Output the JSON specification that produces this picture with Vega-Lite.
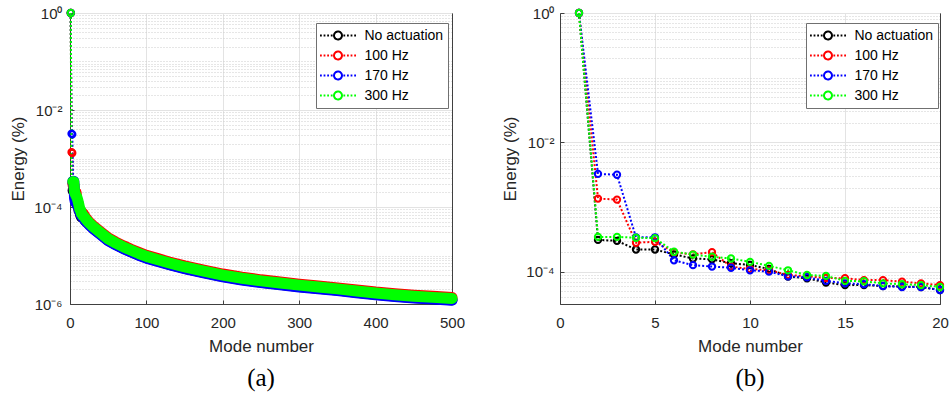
{
  "$schema": "https://vega.github.io/schema/vega-lite/v6.json",
  "background": "white",
  "padding": {"left": 9, "top": 5, "right": 0, "bottom": 0},
  "spacing": 35,
  "datasets": {
    "d": [
      {"s":"No actuation","m":1,"e":1},{"s":"No actuation","m":2,"e":3.1e-4},{"s":"No actuation","m":3,"e":3.0e-4},{"s":"No actuation","m":4,"e":2.2e-4},{"s":"No actuation","m":5,"e":2.2e-4},{"s":"No actuation","m":6,"e":1.85e-4},{"s":"No actuation","m":7,"e":1.6e-4},{"s":"No actuation","m":8,"e":1.55e-4},{"s":"No actuation","m":9,"e":1.35e-4},{"s":"No actuation","m":10,"e":1.27e-4},{"s":"No actuation","m":11,"e":1.1e-4},{"s":"No actuation","m":12,"e":8.4e-5},{"s":"No actuation","m":13,"e":7.9e-5},{"s":"No actuation","m":14,"e":6.8e-5},{"s":"No actuation","m":15,"e":6.2e-5},{"s":"No actuation","m":16,"e":6.2e-5},{"s":"No actuation","m":17,"e":6.0e-5},{"s":"No actuation","m":18,"e":5.9e-5},{"s":"No actuation","m":19,"e":5.8e-5},{"s":"No actuation","m":20,"e":5.2e-5},
      {"s":"No actuation","m":25,"e":4.42e-5},{"s":"No actuation","m":30,"e":3.71e-5},{"s":"No actuation","m":40,"e":2.77e-5},{"s":"No actuation","m":50,"e":2.07e-5},{"s":"No actuation","m":60,"e":1.69e-5},{"s":"No actuation","m":70,"e":1.41e-5},{"s":"No actuation","m":80,"e":1.2e-5},{"s":"No actuation","m":90,"e":1.03e-5},{"s":"No actuation","m":100,"e":9.02e-6},{"s":"No actuation","m":115,"e":7.71e-6},{"s":"No actuation","m":130,"e":6.58e-6},{"s":"No actuation","m":150,"e":5.45e-6},{"s":"No actuation","m":175,"e":4.47e-6},{"s":"No actuation","m":200,"e":3.71e-6},{"s":"No actuation","m":225,"e":3.2e-6},{"s":"No actuation","m":250,"e":2.82e-6},{"s":"No actuation","m":275,"e":2.54e-6},{"s":"No actuation","m":300,"e":2.3e-6},{"s":"No actuation","m":325,"e":2.12e-6},{"s":"No actuation","m":350,"e":1.93e-6},{"s":"No actuation","m":375,"e":1.74e-6},{"s":"No actuation","m":400,"e":1.58e-6},{"s":"No actuation","m":425,"e":1.46e-6},{"s":"No actuation","m":450,"e":1.36e-6},{"s":"No actuation","m":475,"e":1.29e-6},{"s":"No actuation","m":500,"e":1.22e-6},
      {"s":"100 Hz","m":1,"e":1},{"s":"100 Hz","m":2,"e":1.35e-3},{"s":"100 Hz","m":3,"e":1.3e-3},{"s":"100 Hz","m":4,"e":2.8e-4},{"s":"100 Hz","m":5,"e":2.9e-4},{"s":"100 Hz","m":6,"e":2.0e-4},{"s":"100 Hz","m":7,"e":1.85e-4},{"s":"100 Hz","m":8,"e":2.0e-4},{"s":"100 Hz","m":9,"e":1.2e-4},{"s":"100 Hz","m":10,"e":1.1e-4},{"s":"100 Hz","m":11,"e":1.05e-4},{"s":"100 Hz","m":12,"e":8.9e-5},{"s":"100 Hz","m":13,"e":8.5e-5},{"s":"100 Hz","m":14,"e":8.0e-5},{"s":"100 Hz","m":15,"e":7.9e-5},{"s":"100 Hz","m":16,"e":7.4e-5},{"s":"100 Hz","m":17,"e":7.4e-5},{"s":"100 Hz","m":18,"e":7.0e-5},{"s":"100 Hz","m":19,"e":6.6e-5},{"s":"100 Hz","m":20,"e":6.2e-5},
      {"s":"100 Hz","m":25,"e":4.94e-5},{"s":"100 Hz","m":30,"e":4.15e-5},{"s":"100 Hz","m":40,"e":3.1e-5},{"s":"100 Hz","m":50,"e":2.31e-5},{"s":"100 Hz","m":60,"e":1.89e-5},{"s":"100 Hz","m":70,"e":1.58e-5},{"s":"100 Hz","m":80,"e":1.34e-5},{"s":"100 Hz","m":90,"e":1.16e-5},{"s":"100 Hz","m":100,"e":1.01e-5},{"s":"100 Hz","m":115,"e":8.61e-6},{"s":"100 Hz","m":130,"e":7.35e-6},{"s":"100 Hz","m":150,"e":6.09e-6},{"s":"100 Hz","m":175,"e":4.99e-6},{"s":"100 Hz","m":200,"e":4.15e-6},{"s":"100 Hz","m":225,"e":3.57e-6},{"s":"100 Hz","m":250,"e":3.15e-6},{"s":"100 Hz","m":275,"e":2.84e-6},{"s":"100 Hz","m":300,"e":2.57e-6},{"s":"100 Hz","m":325,"e":2.36e-6},{"s":"100 Hz","m":350,"e":2.15e-6},{"s":"100 Hz","m":375,"e":1.94e-6},{"s":"100 Hz","m":400,"e":1.76e-6},{"s":"100 Hz","m":425,"e":1.63e-6},{"s":"100 Hz","m":450,"e":1.52e-6},{"s":"100 Hz","m":475,"e":1.44e-6},{"s":"100 Hz","m":500,"e":1.37e-6},
      {"s":"170 Hz","m":1,"e":1},{"s":"170 Hz","m":2,"e":3.25e-3},{"s":"170 Hz","m":3,"e":3.15e-3},{"s":"170 Hz","m":4,"e":3.4e-4},{"s":"170 Hz","m":5,"e":3.4e-4},{"s":"170 Hz","m":6,"e":1.5e-4},{"s":"170 Hz","m":7,"e":1.26e-4},{"s":"170 Hz","m":8,"e":1.2e-4},{"s":"170 Hz","m":9,"e":1.15e-4},{"s":"170 Hz","m":10,"e":1.05e-4},{"s":"170 Hz","m":11,"e":1.0e-4},{"s":"170 Hz","m":12,"e":8.5e-5},{"s":"170 Hz","m":13,"e":8.2e-5},{"s":"170 Hz","m":14,"e":7.2e-5},{"s":"170 Hz","m":15,"e":6.6e-5},{"s":"170 Hz","m":16,"e":6.4e-5},{"s":"170 Hz","m":17,"e":6.0e-5},{"s":"170 Hz","m":18,"e":5.8e-5},{"s":"170 Hz","m":19,"e":5.8e-5},{"s":"170 Hz","m":20,"e":5.2e-5},
      {"s":"170 Hz","m":25,"e":4.32e-5},{"s":"170 Hz","m":30,"e":3.63e-5},{"s":"170 Hz","m":40,"e":2.71e-5},{"s":"170 Hz","m":50,"e":2.02e-5},{"s":"170 Hz","m":60,"e":1.66e-5},{"s":"170 Hz","m":70,"e":1.38e-5},{"s":"170 Hz","m":80,"e":1.18e-5},{"s":"170 Hz","m":90,"e":1.01e-5},{"s":"170 Hz","m":100,"e":8.83e-6},{"s":"170 Hz","m":115,"e":7.54e-6},{"s":"170 Hz","m":130,"e":6.44e-6},{"s":"170 Hz","m":150,"e":5.34e-6},{"s":"170 Hz","m":175,"e":4.37e-6},{"s":"170 Hz","m":200,"e":3.63e-6},{"s":"170 Hz","m":225,"e":3.13e-6},{"s":"170 Hz","m":250,"e":2.76e-6},{"s":"170 Hz","m":275,"e":2.48e-6},{"s":"170 Hz","m":300,"e":2.25e-6},{"s":"170 Hz","m":325,"e":2.07e-6},{"s":"170 Hz","m":350,"e":1.89e-6},{"s":"170 Hz","m":375,"e":1.7e-6},{"s":"170 Hz","m":400,"e":1.55e-6},{"s":"170 Hz","m":425,"e":1.43e-6},{"s":"170 Hz","m":450,"e":1.33e-6},{"s":"170 Hz","m":475,"e":1.26e-6},{"s":"170 Hz","m":500,"e":1.2e-6},
      {"s":"300 Hz","m":1,"e":1},{"s":"300 Hz","m":2,"e":3.45e-4},{"s":"300 Hz","m":3,"e":3.45e-4},{"s":"300 Hz","m":4,"e":3.35e-4},{"s":"300 Hz","m":5,"e":3.3e-4},{"s":"300 Hz","m":6,"e":2.03e-4},{"s":"300 Hz","m":7,"e":1.84e-4},{"s":"300 Hz","m":8,"e":1.7e-4},{"s":"300 Hz","m":9,"e":1.6e-4},{"s":"300 Hz","m":10,"e":1.42e-4},{"s":"300 Hz","m":11,"e":1.23e-4},{"s":"300 Hz","m":12,"e":1.05e-4},{"s":"300 Hz","m":13,"e":8.9e-5},{"s":"300 Hz","m":14,"e":8.6e-5},{"s":"300 Hz","m":15,"e":7.2e-5},{"s":"300 Hz","m":16,"e":7.1e-5},{"s":"300 Hz","m":17,"e":6.6e-5},{"s":"300 Hz","m":18,"e":6.4e-5},{"s":"300 Hz","m":19,"e":6.2e-5},{"s":"300 Hz","m":20,"e":5.8e-5},
      {"s":"300 Hz","m":25,"e":4.7e-5},{"s":"300 Hz","m":30,"e":3.95e-5},{"s":"300 Hz","m":40,"e":2.95e-5},{"s":"300 Hz","m":50,"e":2.2e-5},{"s":"300 Hz","m":60,"e":1.8e-5},{"s":"300 Hz","m":70,"e":1.5e-5},{"s":"300 Hz","m":80,"e":1.28e-5},{"s":"300 Hz","m":90,"e":1.1e-5},{"s":"300 Hz","m":100,"e":9.6e-6},{"s":"300 Hz","m":115,"e":8.2e-6},{"s":"300 Hz","m":130,"e":7.0e-6},{"s":"300 Hz","m":150,"e":5.8e-6},{"s":"300 Hz","m":175,"e":4.75e-6},{"s":"300 Hz","m":200,"e":3.95e-6},{"s":"300 Hz","m":225,"e":3.4e-6},{"s":"300 Hz","m":250,"e":3.0e-6},{"s":"300 Hz","m":275,"e":2.7e-6},{"s":"300 Hz","m":300,"e":2.45e-6},{"s":"300 Hz","m":325,"e":2.25e-6},{"s":"300 Hz","m":350,"e":2.05e-6},{"s":"300 Hz","m":375,"e":1.85e-6},{"s":"300 Hz","m":400,"e":1.68e-6},{"s":"300 Hz","m":425,"e":1.55e-6},{"s":"300 Hz","m":450,"e":1.45e-6},{"s":"300 Hz","m":475,"e":1.37e-6},{"s":"300 Hz","m":500,"e":1.3e-6}
    ]
  },
  "config": {
    "view": {"stroke": "#404040", "strokeWidth": 1},
    "font": "Liberation Sans",
    "axis": {
      "labelFont": "Liberation Sans", "labelFontSize": 15, "labelColor": "#262626", "labelFlush": false,
      "titleFont": "Liberation Sans", "titleFontSize": 17, "titleFontWeight": "normal", "titleColor": "#262626",
      "domainColor": "#404040", "tickColor": "#404040", "gridColor": "#e3e3e3", "gridOpacity": 1
    },
    "legend": {
      "orient": "none", "legendX": 246, "legendY": 10,
      "fillColor": "white", "strokeColor": "#707070", "padding": 4,
      "labelFont": "Liberation Sans", "labelFontSize": 14, "labelColor": "#000000", "labelOffset": 18,
      "symbolType": "M-2.4,0H-2.16M-1.92,0H-1.68M-1.44,0H-1.2M-0.96,0H-0.72M0.72,0H0.96M1.2,0H1.44M1.68,0H1.92M2.16,0H2.4M0.53,0A0.53,0.53,0,1,1,-0.53,0A0.53,0.53,0,1,1,0.53,0",
      "symbolSize": 225, "symbolOffset": 9.5, "symbolStrokeWidth": 2, "rowPadding": 3
    }
  },
  "resolve": {"scale": {"color": "independent"}, "legend": {"color": "independent"}},
  "hconcat": [
    {
      "width": 382, "height": 291,
      "data": {"name": "d"},
      "title": {"text": "(a)", "orient": "bottom", "font": "Liberation Serif", "fontSize": 25, "fontWeight": "normal", "color": "#000000", "offset": 12, "anchor": "middle"},
      "encoding": {
        "x": {"field": "m", "type": "quantitative", "scale": {"domain": [0, 500], "nice": false, "zero": false},
              "axis": {"title": "Mode number", "values": [0, 100, 200, 300, 400, 500], "grid": true, "tickSize": -4, "labelPadding": 15, "titlePadding": 8}},
        "color": {"field": "s", "type": "nominal",
                  "scale": {"domain": ["No actuation", "100 Hz", "170 Hz", "300 Hz"], "range": ["#000000", "#ff0000", "#0000ff", "#00ff00"]},
                  "legend": {"title": null, "encode": {
                    "symbols": {"update": {"fill": {"value": "transparent"}, "strokeDash": {"value": [1, 0]}, "strokeWidth": {"value": 2}}}}}}
      },
      "resolve": {"axis": {"y": "independent"}},
      "layer": [
        {
          "mark": {"type": "line", "strokeDash": [2, 2], "strokeWidth": 2},
          "encoding": {"y": {"field": "e", "type": "quantitative", "scale": {"type": "log", "domain": [1e-6, 1], "nice": false},
            "axis": {"title": "Energy (%)", "orient": "left", "values": [1e-6, 1e-4, 1e-2, 1], "grid": true, "tickSize": -4, "labelPadding": 12, "titlePadding": 6,
                     "labelExpr": "'10' + (datum.value > 0.5 ? '⁰' : datum.value > 0.005 ? '⁻²' : datum.value > 0.00005 ? '⁻⁴' : '⁻⁶')"}}}
        },
        {
          "transform": [{"filter": "datum.m <= 3"}],
          "mark": {"type": "point", "filled": false, "size": 40, "strokeWidth": 2, "opacity": 1},
          "encoding": {"y": {"field": "e", "type": "quantitative", "scale": {"type": "log", "domain": [1e-6, 1], "nice": false}, "axis": null}}
        },
        {
          "transform": [{"filter": "datum.m >= 4"}],
          "mark": {"type": "line", "strokeWidth": 11, "strokeCap": "round", "strokeJoin": "round"},
          "encoding": {"y": {"field": "e", "type": "quantitative", "scale": {"type": "log", "domain": [1e-6, 1], "nice": false},
            "axis": {"orient": "right", "title": null, "labels": false, "ticks": false, "domain": true, "grid": true, "gridDash": [1, 2], "gridColor": "#cccccc",
                     "values": [2e-6,3e-6,4e-6,5e-6,6e-6,7e-6,8e-6,9e-6,1e-5,2e-5,3e-5,4e-5,5e-5,6e-5,7e-5,8e-5,9e-5,2e-4,3e-4,4e-4,5e-4,6e-4,7e-4,8e-4,9e-4,1e-3,2e-3,3e-3,4e-3,5e-3,6e-3,7e-3,8e-3,9e-3,2e-2,3e-2,4e-2,5e-2,6e-2,7e-2,8e-2,9e-2,0.1,0.2,0.3,0.4,0.5,0.6,0.7,0.8,0.9]}}}
        }
      ]
    },
    {
      "width": 380, "height": 291,
      "data": {"name": "d"},
      "transform": [{"filter": "datum.m <= 20"}],
      "title": {"text": "(b)", "orient": "bottom", "font": "Liberation Serif", "fontSize": 25, "fontWeight": "normal", "color": "#000000", "offset": 12, "anchor": "middle"},
      "encoding": {
        "x": {"field": "m", "type": "quantitative", "scale": {"domain": [0, 20], "nice": false, "zero": false},
              "axis": {"title": "Mode number", "values": [0, 5, 10, 15, 20], "grid": true, "tickSize": -4, "labelPadding": 15, "titlePadding": 8}},
        "color": {"field": "s", "type": "nominal",
                  "scale": {"domain": ["No actuation", "100 Hz", "170 Hz", "300 Hz"], "range": ["#000000", "#ff0000", "#0000ff", "#00ff00"]},
                  "legend": {"title": null, "encode": {
                    "symbols": {"update": {"fill": {"value": "transparent"}, "strokeDash": {"value": [1, 0]}, "strokeWidth": {"value": 2}}}}}}
      },
      "resolve": {"axis": {"y": "independent"}},
      "layer": [
        {
          "mark": {"type": "line", "strokeDash": [2, 2], "strokeWidth": 2},
          "encoding": {"y": {"field": "e", "type": "quantitative", "scale": {"type": "log", "domain": [3.1623e-5, 1], "nice": false},
            "axis": {"title": "Energy (%)", "orient": "left", "values": [1e-4, 1e-2, 1], "grid": true, "tickSize": -4, "labelPadding": 10, "titlePadding": 6,
                     "labelExpr": "'10' + (datum.value > 0.5 ? '⁰' : datum.value > 0.005 ? '⁻²' : datum.value > 0.00005 ? '⁻⁴' : '⁻⁶')"}}}
        },
        {
          "mark": {"type": "point", "filled": false, "size": 40, "strokeWidth": 2, "opacity": 1},
          "encoding": {"y": {"field": "e", "type": "quantitative", "scale": {"type": "log", "domain": [3.1623e-5, 1], "nice": false},
            "axis": {"orient": "right", "title": null, "labels": false, "ticks": false, "domain": true, "grid": true, "gridDash": [1, 2], "gridColor": "#cccccc",
                     "values": [4e-5,5e-5,6e-5,7e-5,8e-5,9e-5,2e-4,3e-4,4e-4,5e-4,6e-4,7e-4,8e-4,9e-4,1e-3,2e-3,3e-3,4e-3,5e-3,6e-3,7e-3,8e-3,9e-3,2e-2,3e-2,4e-2,5e-2,6e-2,7e-2,8e-2,9e-2,0.1,0.2,0.3,0.4,0.5,0.6,0.7,0.8,0.9]}}}
        }
      ]
    }
  ]
}
